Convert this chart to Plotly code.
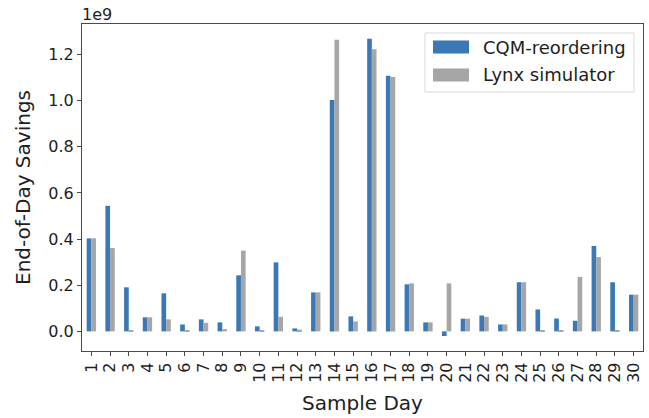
import plotly.graph_objects as go

# End-of-day savings per sample day, in units of 1e9
days = [str(d) for d in range(1, 31)]
cqm_reordering = [0.403, 0.544, 0.191, 0.061, 0.165, 0.030, 0.052, 0.039, 0.243, 0.022,
                  0.299, 0.013, 0.169, 1.003, 0.065, 1.268, 1.108, 0.204, 0.039, -0.020,
                  0.055, 0.069, 0.030, 0.213, 0.095, 0.056, 0.046, 0.370, 0.213, 0.159]
lynx_simulator = [0.403, 0.361, 0.006, 0.061, 0.052, 0.003, 0.037, 0.010, 0.350, 0.005,
                  0.063, 0.008, 0.169, 1.264, 0.043, 1.223, 1.102, 0.208, 0.039, 0.208,
                  0.055, 0.063, 0.030, 0.213, 0.003, 0.003, 0.236, 0.322, 0.003, 0.159]
y_ticks = [0.0, 0.2, 0.4, 0.6, 0.8, 1.0, 1.2]
series_names = ["CQM-reordering", "Lynx simulator"]
series_colors = ["#3b79b6", "#a6a6a6"]

FONT = "DejaVu Sans"
TEXT = "#1e1e1e"
AXIS_COLOR = "#4a4a4a"
W, H = 649, 418
L, R, T, B = 82, 6, 24, 67

fig = go.Figure()
for name, vals, col in zip(series_names, [cqm_reordering, lynx_simulator], series_colors):
    fig.add_trace(go.Bar(x=days, y=vals, name=name, showlegend=False,
                         marker=dict(color=col, line=dict(width=0))))

fig.update_layout(
    width=W, height=H,
    margin=dict(l=L, r=R, t=T, b=B, autoexpand=False),
    paper_bgcolor="white", plot_bgcolor="white",
    barmode="group", bargap=0.5, bargroupgap=0,
    font=dict(family=FONT, size=16, color=TEXT),
)
fig.update_xaxes(
    type="category", range=[-0.5, 29.5],
    tickmode="array", tickvals=days, ticktext=days,
    showline=True, mirror=True, linecolor=AXIS_COLOR, linewidth=1.2,
    ticks="outside", ticklen=4, tickcolor=AXIS_COLOR, tickangle=-90,
    tickfont=dict(family=FONT, size=16, color=TEXT),
    title=dict(text="Sample Day", font=dict(family=FONT, size=20, color=TEXT), standoff=14),
    showgrid=False, zeroline=False, automargin=False,
)
fig.update_yaxes(
    range=[-0.085, 1.332],
    tickvals=y_ticks, ticktext=[f"{v:.1f}" for v in y_ticks],
    showline=True, mirror=True, linecolor=AXIS_COLOR, linewidth=1.2,
    ticks="outside", ticklen=4, tickcolor=AXIS_COLOR,
    tickfont=dict(family=FONT, size=16, color=TEXT),
    title=dict(text="End-of-Day Savings", font=dict(family=FONT, size=20, color=TEXT), standoff=12),
    showgrid=False, zeroline=False, automargin=False,
)

# Offset label for the y axis scale
fig.add_annotation(text="1e9", xref="paper", yref="paper", x=0, y=1, xanchor="left", yanchor="bottom",
                   showarrow=False, font=dict(family=FONT, size=16, color=TEXT), xshift=-2, yshift=-2)

# Legend drawn as a framed box with wide colour patches, in pixel units converted to paper coords
pw, ph = W - L - R, H - T - B
def px(x):
    return (x - L) / pw
def py(y):
    return 1 - (y - T) / ph

fig.add_shape(type="rect", xref="paper", yref="paper",
              x0=px(425), x1=px(634), y0=py(92), y1=py(33),
              line=dict(color="#d9d9d9", width=1), fillcolor="rgba(255,255,255,0.85)", layer="above")
for i, (name, col) in enumerate(zip(series_names, series_colors)):
    cy = 47 + i * 28
    fig.add_shape(type="rect", xref="paper", yref="paper",
                  x0=px(433), x1=px(469), y0=py(cy + 6.5), y1=py(cy - 6.5),
                  line=dict(width=0), fillcolor=col, layer="above")
    fig.add_annotation(text=name, xref="paper", yref="paper", x=px(481), y=py(cy),
                       xanchor="left", yanchor="middle", showarrow=False,
                       font=dict(family=FONT, size=18, color=TEXT))

fig.write_html("out.html")
